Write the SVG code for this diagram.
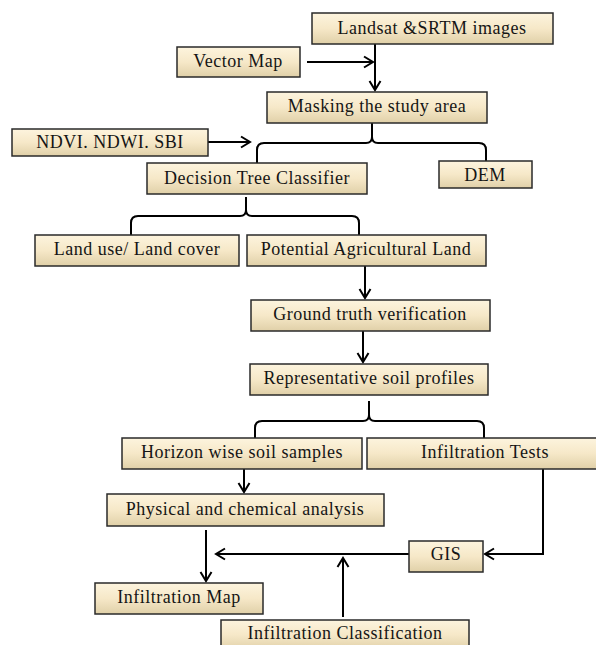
<svg xmlns="http://www.w3.org/2000/svg" width="596" height="645" viewBox="0 0 596 645">
<style>
.box{fill:url(#g);stroke:#2a2a2a;stroke-width:1.5}
.t{font-family:"Liberation Serif","Times New Roman",serif;font-size:18px;letter-spacing:0.5px;fill:#151515;text-anchor:middle}
.c{fill:none;stroke:#000;stroke-width:2}
</style>
<defs>
<linearGradient id="g" x1="0" y1="0" x2="0" y2="1">
<stop offset="0" stop-color="#fdf4de"/>
<stop offset="0.5" stop-color="#f6e8c8"/>
<stop offset="1" stop-color="#e0d0a8"/>
</linearGradient>
<marker id="a" markerUnits="userSpaceOnUse" markerWidth="14" markerHeight="14" refX="11" refY="7" orient="auto">
<path d="M2,1.5 L11,7 L2,12.5" fill="none" stroke="#000" stroke-width="2"/>
</marker>
</defs>
<g id="connectors">
<path class="c" d="M375,44 V90" marker-end="url(#a)"/>
<path class="c" d="M307,62 H373" marker-end="url(#a)"/>
<path class="c" d="M257,163 V150 Q257,143 264,143 H366 Q372,143 372,137 V123 M372,137 Q372,143 378,143 H479 Q486,143 486,150 V161"/>
<path class="c" d="M208,142 H250" marker-end="url(#a)"/>
<path class="c" d="M131,235 V223 Q131,216 138,216 H240 Q246,216 246,210 V197 M246,210 Q246,216 252,216 H352 Q359,216 359,223 V235"/>
<path class="c" d="M365,266 V298" marker-end="url(#a)"/>
<path class="c" d="M363,331 V362" marker-end="url(#a)"/>
<path class="c" d="M255,438 V428 Q255,421 262,421 H363 Q369,421 369,415 V401 M369,415 Q369,421 375,421 H477 Q484,421 484,428 V438"/>
<path class="c" d="M244,469 V492" marker-end="url(#a)"/>
<path class="c" d="M543,469 V554 H485" marker-end="url(#a)"/>
<path class="c" d="M409,554 H216" marker-end="url(#a)"/>
<path class="c" d="M206,530 V581" marker-end="url(#a)"/>
<path class="c" d="M343,617 V558" marker-end="url(#a)"/>
</g>
<g id="landsat"><rect class="box" x="312" y="13" width="241" height="31"/><text class="t" x="432" y="34">Landsat &amp;SRTM images</text></g>
<g id="vector"><rect class="box" x="177" y="47" width="123" height="30"/><text class="t" x="238" y="67">Vector Map</text></g>
<g id="masking"><rect class="box" x="267" y="92" width="220" height="31"/><text class="t" x="377" y="112">Masking the study area</text></g>
<g id="ndvi"><rect class="box" x="12" y="129" width="196" height="27"/><text class="t" x="110" y="148">NDVI. NDWI. SBI</text></g>
<g id="decision"><rect class="box" x="147" y="163" width="220" height="31"/><text class="t" x="257" y="184">Decision Tree Classifier</text></g>
<g id="dem"><rect class="box" x="439" y="161" width="93" height="27"/><text class="t" x="485" y="181">DEM</text></g>
<g id="landuse"><rect class="box" x="35" y="235" width="204" height="31"/><text class="t" x="137" y="255">Land use/ Land cover</text></g>
<g id="potential"><rect class="box" x="247" y="235" width="239" height="31"/><text class="t" x="366" y="255">Potential Agricultural Land</text></g>
<g id="ground"><rect class="box" x="251" y="300" width="239" height="31"/><text class="t" x="370" y="320">Ground truth verification</text></g>
<g id="representative"><rect class="box" x="250" y="364" width="238" height="31"/><text class="t" x="369" y="384">Representative soil profiles</text></g>
<g id="horizon"><rect class="box" x="122" y="438" width="240" height="31"/><text class="t" x="242" y="458">Horizon wise soil samples</text></g>
<g id="tests"><rect class="box" x="367" y="438" width="237" height="31"/><text class="t" x="485" y="458">Infiltration Tests</text></g>
<g id="physical"><rect class="box" x="107" y="494" width="277" height="32"/><text class="t" x="245" y="515">Physical and chemical analysis</text></g>
<g id="gis"><rect class="box" x="409" y="541" width="74" height="31"/><text class="t" x="446" y="560">GIS</text></g>
<g id="map"><rect class="box" x="95" y="583" width="168" height="31"/><text class="t" x="179" y="603">Infiltration Map</text></g>
<g id="classification"><rect class="box" x="221" y="620" width="248" height="30"/><text class="t" x="345" y="639">Infiltration Classification</text></g>
</svg>
